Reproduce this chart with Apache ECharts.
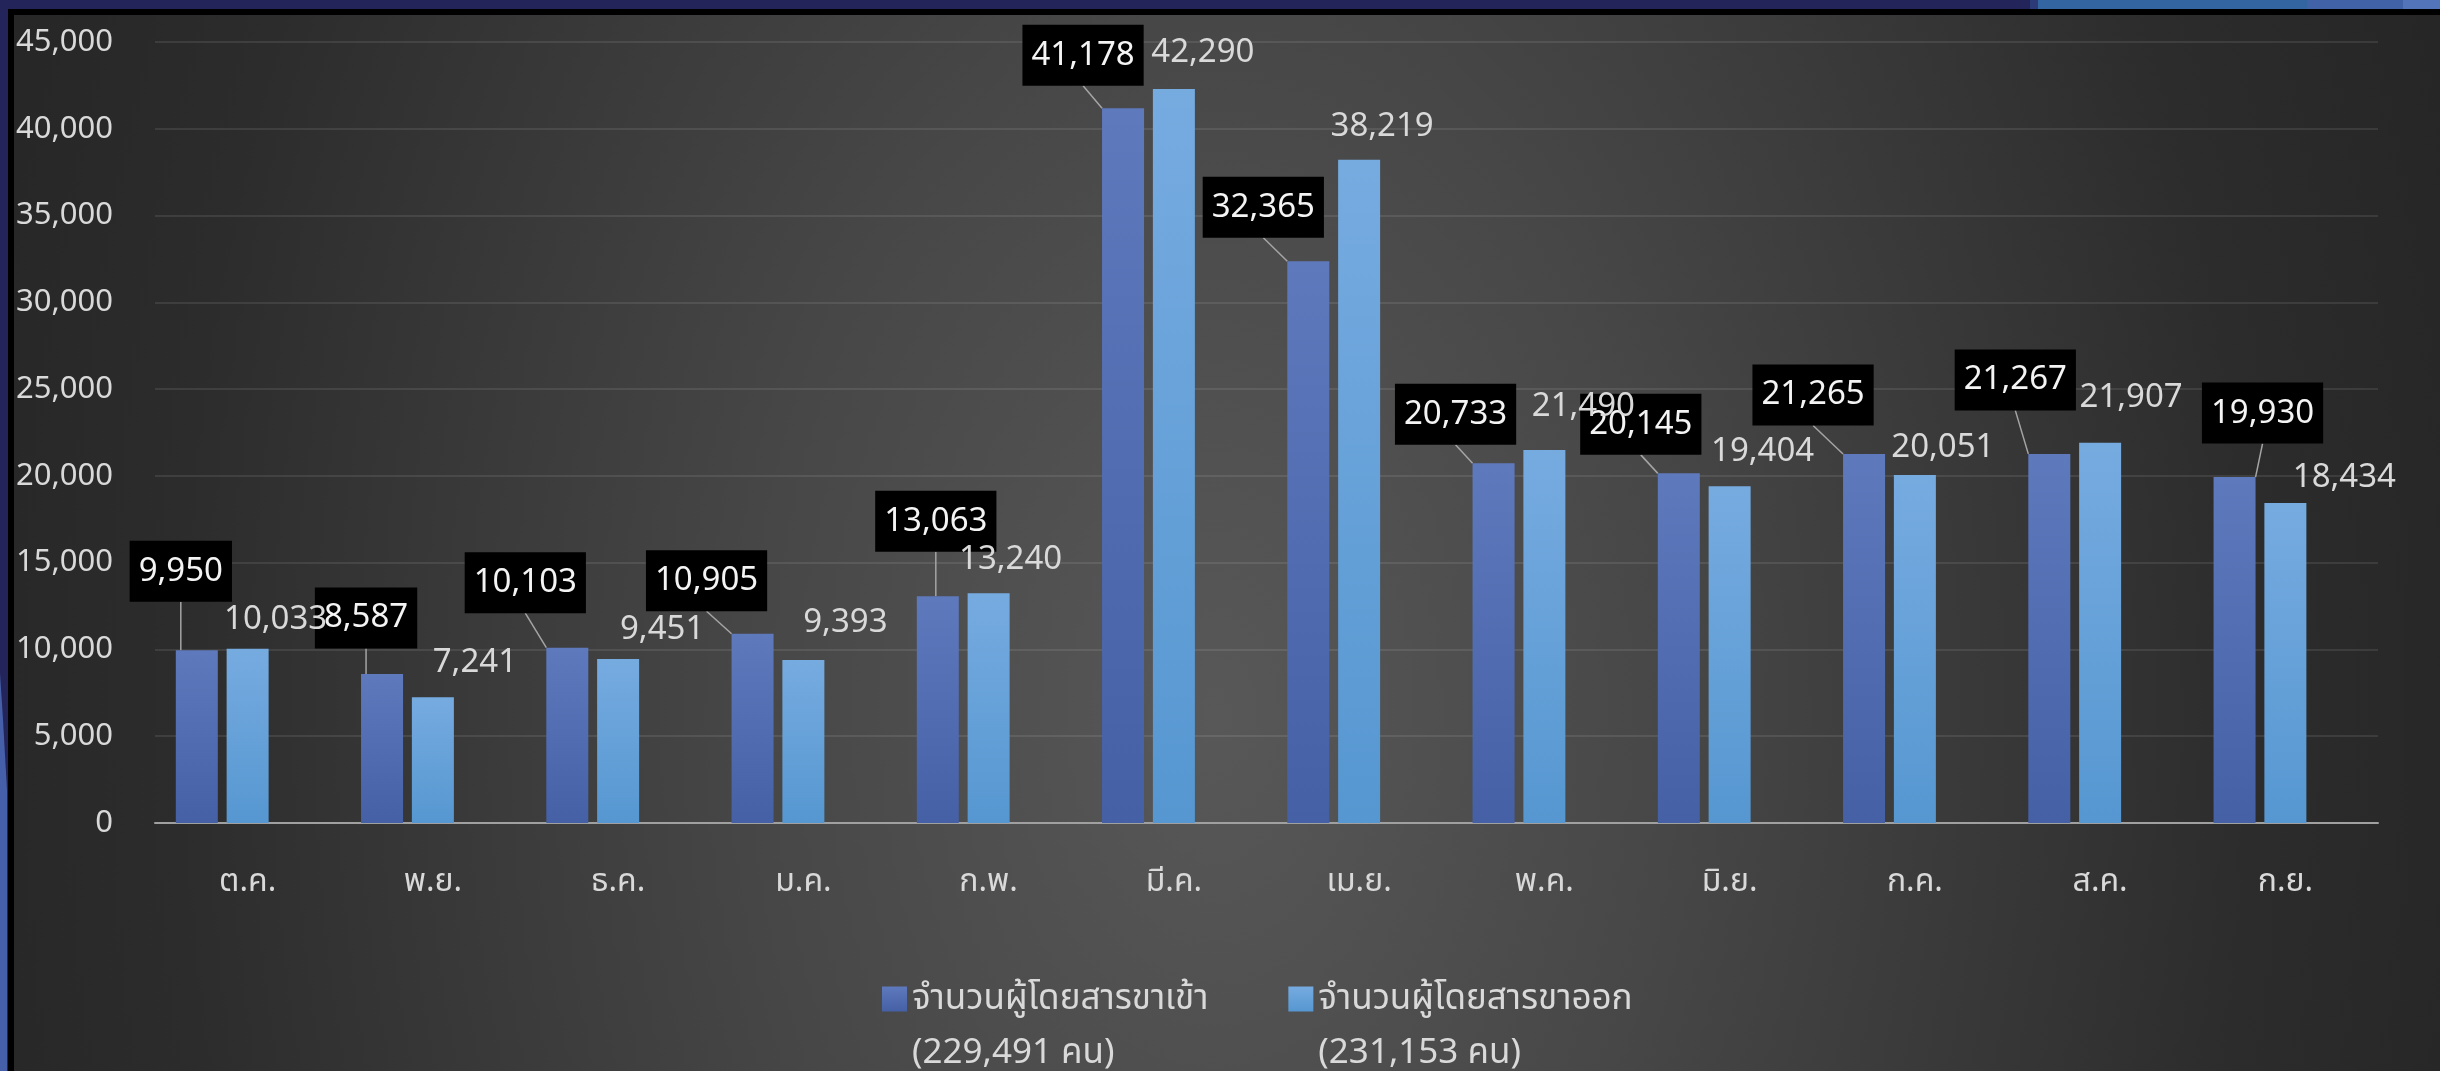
<!DOCTYPE html>
<html>
<head>
<meta charset="utf-8">
<title>จำนวนผู้โดยสาร</title>
<script src="https://cdn.jsdelivr.net/npm/echarts@6/dist/echarts.min.js"></script>
<style>
html, body {
  margin: 0;
  padding: 0;
  width: 2440px;
  height: 1071px;
  overflow: hidden;
  background: #23255a;
}
#frame {
  position: absolute;
  left: 8px;
  top: 9px;
  width: 2432px;
  height: 1062px;
  background: #000;
}
#panel {
  position: absolute;
  left: 14px;
  top: 15px;
  width: 2426px;
  height: 1056px;
  background: radial-gradient(ellipse 1300px 2000px at 1200px 700px, #585858 0%, #474747 35%, #2c2c2c 80%, #262626 100%);
}
#chart {
  position: absolute;
  left: 0;
  top: 0;
  width: 2440px;
  height: 1071px;
}
</style>
</head>
<body>
<div id="frame"></div>
<div id="panel"></div>
<div id="chart"></div>
<script>
// เดือน (ปีงบประมาณ)
var months = ['ต.ค.', 'พ.ย.', 'ธ.ค.', 'ม.ค.', 'ก.พ.', 'มี.ค.', 'เม.ย.', 'พ.ค.', 'มิ.ย.', 'ก.ค.', 'ส.ค.', 'ก.ย.'];
// ผู้โดยสารขาเข้า
var inbound = [9950, 8587, 10103, 10905, 13063, 41178, 32365, 20733, 20145, 21265, 21267, 19930];
// ผู้โดยสารขาออก
var outbound = [10033, 7241, 9451, 9393, 13240, 42290, 38219, 21490, 19404, 20051, 21907, 18434];

var inName = 'จำนวนผู้โดยสารขาเข้า';
var outName = 'จำนวนผู้โดยสารขาออก';

// where each label sits, relative to the top centre of its bar (hand placed in the original)
var inShift = [[-16, -79], [-16, -56], [-42, -65], [-46, -53], [-2, -75], [-40, -53],
               [-45, -54], [-38, -49], [-38, -49], [-51, -59], [-34, -74], [28, -64]];
var outShift = [[28, -29], [42, -35], [44, -29], [42, -37], [22, -34], [29, -36],
                [23, -33], [39, -43], [33, -35], [28, -27], [31, -45], [59, -25]];

var font = "'Noto Sans', 'Noto Sans Thai', Tahoma, 'DejaVu Sans', sans-serif";
var textColor = '#d9d9d9';

function fmt(v) {
  return Number(v).toLocaleString('en-US');
}
function sum(arr) {
  return arr.reduce(function (a, b) { return a + b; }, 0);
}
var totals = {};
totals[inName] = sum(inbound);
totals[outName] = sum(outbound);

function shiftBy(list) {
  return function (p) {
    var s = list[p.dataIndex];
    return { dx: s[0], dy: s[1] + p.labelRect.height / 2 };
  };
}

var myChart = echarts.init(document.getElementById('chart'));

var option = {
  backgroundColor: 'transparent',
  animation: false,
  textStyle: { fontFamily: font },
  grid: {
    left: 155,
    right: 62,
    top: 42,
    bottom: 248
  },
  legend: {
    data: [inName, outName],
    left: 882,
    top: 918,
    padding: 0,
    icon: 'rect',
    itemWidth: 25,
    itemHeight: 25,
    itemGap: 80,
    // blank first line so the square lines up with the series name
    formatter: function (name) {
      return '\u00a0\n' + name + '\n(' + fmt(totals[name]) + ' คน)';
    },
    textStyle: {
      color: textColor,
      fontSize: 35,
      lineHeight: 54,
      fontFamily: font
    }
  },
  xAxis: {
    type: 'category',
    data: months,
    axisTick: { show: false },
    axisLine: { lineStyle: { color: '#a0a0a0', width: 2 } },
    axisLabel: {
      color: textColor,
      fontSize: 32,
      fontFamily: font,
      margin: 43
    }
  },
  yAxis: {
    type: 'value',
    min: 0,
    max: 45000,
    interval: 5000,
    axisLine: { show: false },
    axisTick: { show: false },
    splitLine: { lineStyle: { color: 'rgba(255,255,255,0.12)', width: 1.5 } },
    axisLabel: {
      color: textColor,
      fontSize: 31,
      fontFamily: font,
      margin: 42,
      formatter: function (v) { return fmt(v); }
    }
  },
  series: [
    {
      name: inName,
      type: 'bar',
      data: inbound,
      barWidth: 42,
      barGap: '21%',
      itemStyle: {
        color: new echarts.graphic.LinearGradient(0, 0, 0, 1, [
          { offset: 0, color: '#5f79bd' },
          { offset: 1, color: '#4560a5' }
        ])
      },
      label: {
        show: true,
        position: 'top',
        distance: 0,
        color: '#f4f4f4',
        fontSize: 33,
        fontFamily: font,
        backgroundColor: '#000',
        padding: [14, 9, 14, 9],
        formatter: function (p) { return fmt(p.value); }
      },
      labelLine: {
        show: true,
        lineStyle: { color: '#a5a5a5', width: 1.5 }
      },
      labelLayout: shiftBy(inShift)
    },
    {
      name: outName,
      type: 'bar',
      data: outbound,
      barWidth: 42,
      barGap: '21%',
      itemStyle: {
        color: new echarts.graphic.LinearGradient(0, 0, 0, 1, [
          { offset: 0, color: '#76abe0' },
          { offset: 1, color: '#5697d1' }
        ])
      },
      label: {
        show: true,
        position: 'top',
        distance: 0,
        color: textColor,
        fontSize: 33,
        fontFamily: font,
        formatter: function (p) { return fmt(p.value); }
      },
      labelLayout: shiftBy(outShift)
    },
    {
      // empty third series in the original: keeps the pair left of the tick
      name: 'ว่าง',
      type: 'bar',
      data: [],
      barWidth: 42,
      barGap: '21%',
      silent: true
    }
  ],
  graphic: [
    { type: 'rect', shape: { x: 2030, y: 0, width: 10, height: 9 }, style: { fill: '#2c3a78' } },
    { type: 'rect', shape: { x: 2038, y: 0, width: 269, height: 9 }, style: { fill: '#3366a0' } },
    { type: 'rect', shape: { x: 2307, y: 0, width: 96, height: 9 }, style: { fill: '#4262a8' } },
    { type: 'rect', shape: { x: 2403, y: 0, width: 37, height: 9 }, style: { fill: '#5474ba' } },
    { type: 'polygon', shape: { points: [[0, 673], [3, 720], [7, 790], [7, 1071], [0, 1071]] }, style: { fill: '#4560a8' } }
  ]
};

myChart.setOption(option);
</script>
</body>
</html>
